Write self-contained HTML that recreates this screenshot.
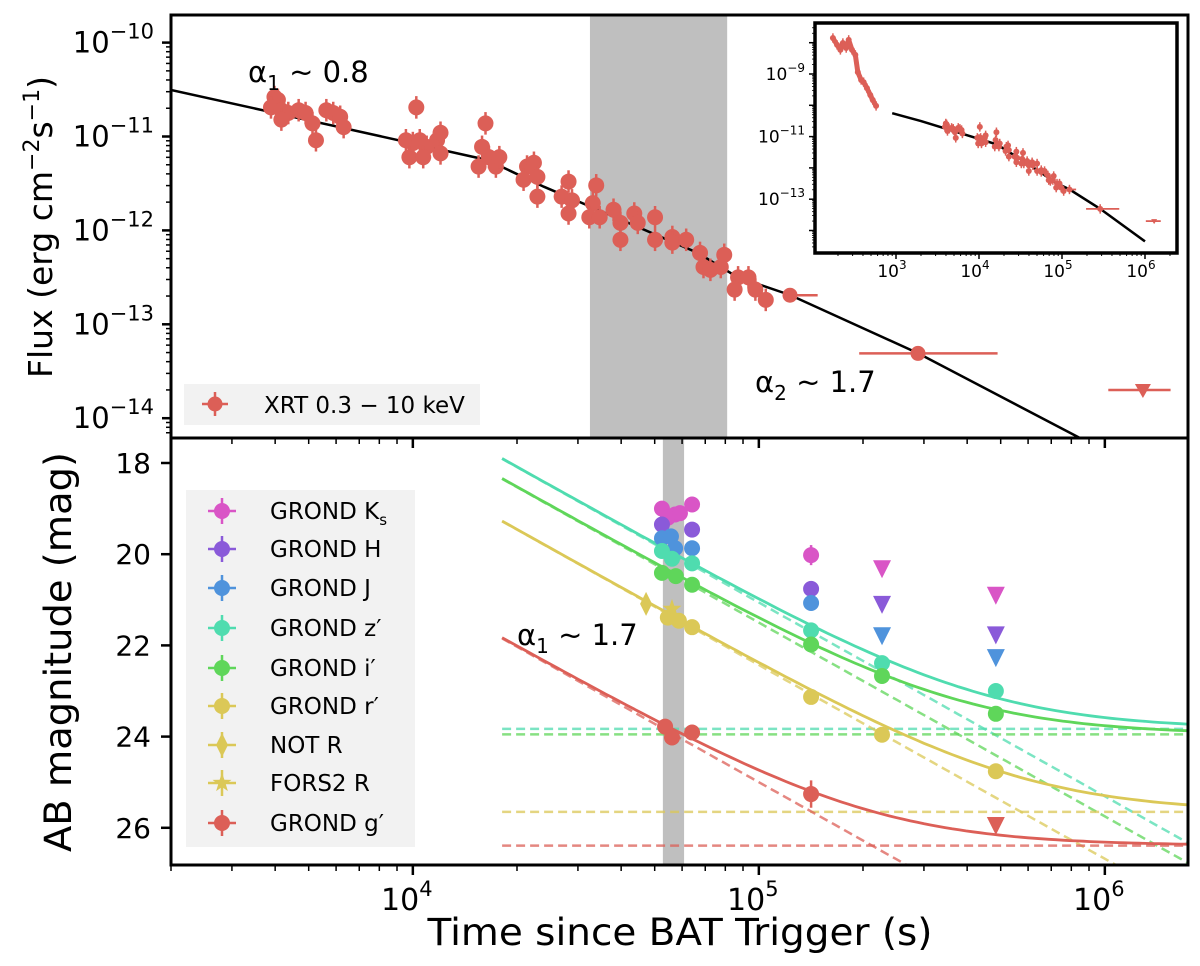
<!DOCTYPE html>
<html><head><meta charset="utf-8"><style>
html,body{margin:0;padding:0;background:#fff;overflow:hidden;width:1200px;height:966px;}
svg{display:block;font-family:"DejaVu Sans","Liberation Sans",sans-serif;}
</style></head><body>
<svg id="fig" width="1200" height="966" viewBox="0 0 1200 966" xmlns="http://www.w3.org/2000/svg">
<defs>
<clipPath id="clipTop"><rect x="171" y="15" width="1017" height="423"/></clipPath>
<clipPath id="clipBot"><rect x="171" y="438" width="1017" height="427"/></clipPath>
<clipPath id="clipIn"><rect x="815" y="23" width="362" height="230"/></clipPath>
</defs>
<g id="topPanel"></g>
<g id="botPanel"></g>
<g id="inset"></g>
<g id="axes"></g>
</svg>
<script>
// ---------- X-ray data (log10 t [s], log10 flux) ----------
const xrtLogT = [3.60,3.61,3.59,3.62,3.64,3.67,3.69,3.71,3.72,3.75,3.77,3.79,3.80,3.62,
 4.01,3.98,4.00,4.02,4.04,4.07,4.08,3.99,4.03,4.08,
 4.21,4.20,4.22,4.19,4.24,4.25,
 4.33,4.35,4.32,4.36,4.36,4.45,4.43,4.46,4.45,
 4.53,4.52,4.51,4.54,4.58,4.60,4.60,
 4.64,4.65,4.70,4.70,4.75,4.75,4.79,
 4.83,4.84,4.86,4.89,4.90,4.94,4.97,4.93,4.99,5.02];
const xrtLogF = [-10.58,-10.61,-10.69,-10.72,-10.75,-10.72,-10.75,-10.86,-11.04,-10.72,-10.75,-10.79,-10.90,-10.82,
 -10.69,-11.04,-11.07,-11.04,-11.11,-11.04,-10.96,-11.22,-11.22,-11.18,
 -10.86,-11.11,-11.22,-11.32,-11.32,-11.22,
 -11.32,-11.28,-11.46,-11.43,-11.64,-11.48,-11.64,-11.68,-11.82,
 -11.52,-11.71,-11.86,-11.86,-11.78,-11.92,-12.10,
 -11.82,-11.92,-11.86,-12.10,-12.07,-12.13,-12.10,
 -12.24,-12.39,-12.42,-12.39,-12.26,-12.50,-12.50,-12.63,-12.63,-12.74];
const xrtErr = 0.12;
const xrtLateLogT = [5.09, 5.46];
const xrtLateLogF = [-12.69, -13.31];
const xrtLateLo = [5.07, 5.29];
const xrtLateHi = [5.17, 5.69];
const xrtULLogT = [6.11];
const xrtULLogF = [-13.70];
const xrtULLo = [6.01];
const xrtULHi = [6.19];
const fitT = [2000,6320,16400,23900,36100,66700,86500,123000,288000,847000];
const fitF = [3.13e-11,1.23e-11,5.62e-12,2.92e-12,1.53e-12,5.74e-13,3.19e-13,2.05e-13,4.94e-14,6.15e-15];
// inset early phase
const earlyLogT = [2.24,2.29,2.33,2.36,2.40,2.43,2.47,2.51,2.54,2.58,2.61,2.65,2.69,2.72,2.76];
const earlyLogF = [-7.85,-8.07,-8.23,-8.01,-8.17,-7.91,-8.23,-8.39,-8.94,-9.19,-9.26,-9.45,-9.67,-9.83,-10.02];
const insetFitT = [900,2000,6320,16400,36100,86500,123000,288000,1000000];
const insetFitF = [5.6e-11,3.13e-11,1.23e-11,5.62e-12,1.53e-12,3.19e-13,2.05e-13,4.94e-14,4.5e-15];
// ---------- optical data (log10 t, AB mag) ----------
const bands = ["Ks","H","J","z","i","r","g"];
const bandColors = ["#d955c6","#8a5ad9","#4f93dc","#4fdcaf","#5fd65a","#dbc857","#dc5f57"];
const detLogT = {
 Ks:[4.720,4.737,4.758,4.772,4.807,5.151],
 H:[4.720,4.807,5.151],
 J:[4.720,4.746,4.758,4.807,5.151],
 z:[4.720,4.749,4.807,5.151,5.356,5.685],
 i:[4.720,4.760,4.807,5.151,5.356,5.685],
 r:[4.737,4.769,4.807,5.151,5.356,5.685],
 g:[4.729,4.749,4.807,5.151]};
const detMag = {
 Ks:[19.00,19.20,19.13,19.10,18.91,20.02],
 H:[19.35,19.46,20.76],
 J:[19.65,19.61,19.87,19.87,21.07],
 z:[19.93,20.10,20.20,21.67,22.39,23.00],
 i:[20.41,20.48,20.67,21.98,22.67,23.50],
 r:[21.39,21.46,21.60,23.13,23.96,24.76],
 g:[23.78,24.02,23.91,25.26]};
const ulLogT = {Ks:[5.356,5.685],H:[5.356,5.685],J:[5.356,5.685],g:[5.685]};
const ulMag = {Ks:[20.33,20.91],H:[21.11,21.78],J:[21.80,22.28],g:[25.96]};
const notLogT=[4.674], notMag=[21.09];
const forsLogT=[4.749], forsMag=[21.20];
// fit parameters: afterglow mag at t=1e5 s, host mag, decay index
const fitBands = ["z","i","r","g"];
const agMag1e5 = [21.06,21.50,22.43,25.00];
const hostMag = [23.83,23.95,25.65,26.39];
const fitAlpha = [1.7,1.7,1.7,1.7];
const fitStartLogT = 4.258;
// ---------- axis functions ----------
const LX0 = Math.log10(2000);
function X(lt){return 171 + (lt - LX0)*346;}
function YT(lf){return 42.6 + (-10 - lf)*93.9;}
function YB(m){return 463 + (m - 18)*45.6;}
function IX(lt){return 896 + (lt - 3)*83;}
function IY(lf){return 74 + (-9 - lf)*31.3;}
const NS="http://www.w3.org/2000/svg";
function mk(tag, attrs, parent){const e=document.createElementNS(NS,tag);for(const k in attrs)e.setAttribute(k,attrs[k]);parent.appendChild(e);return e;}
const top_=document.getElementById('topPanel'), bot=document.getElementById('botPanel'), ins=document.getElementById('inset'), ax=document.getElementById('axes');
const XRT="#dc5f57";

// ---- top panel ----
const gT = mk('g',{'clip-path':'url(#clipTop)'},top_);
let band=mk('rect',{x:X(Math.log10(32500)),y:15,width:X(Math.log10(81000))-X(Math.log10(32500)),height:423,fill:'#bfbfbf'},gT);


let d=fitT.map((t,i)=>(i?'L':'M')+X(Math.log10(t)).toFixed(1)+','+YT(Math.log10(fitF[i])).toFixed(1)).join('');
let fl=mk('path',{d:d,stroke:'#000','stroke-width':2.5,fill:'none'},gT);


xrtLogT.forEach((lt,i)=>{
  const g=mk('g',{},gT);
  
  
  mk('line',{x1:X(lt),x2:X(lt),y1:YT(xrtLogF[i]+xrtErr),y2:YT(xrtLogF[i]-xrtErr),stroke:XRT,'stroke-width':2.5},g);
  mk('circle',{cx:X(lt),cy:YT(xrtLogF[i]),r:8,fill:XRT},g);
});
xrtLateLogT.forEach((lt,i)=>{
  const g=mk('g',{},gT);
  
  
  mk('line',{x1:X(xrtLateLo[i]),x2:X(xrtLateHi[i]),y1:YT(xrtLateLogF[i]),y2:YT(xrtLateLogF[i]),stroke:XRT,'stroke-width':2.5},g);
  mk('circle',{cx:X(lt),cy:YT(xrtLateLogF[i]),r:7.5,fill:XRT},g);
});
xrtULLogT.forEach((lt,i)=>{
  const g=mk('g',{},gT);
  
  
  const x=X(lt),y=YT(xrtULLogF[i]);
  mk('line',{x1:X(xrtULLo[i]),x2:X(xrtULHi[i]),y1:y,y2:y,stroke:XRT,'stroke-width':2.5},g);
  mk('path',{d:`M${x-8},${y-6}L${x+8},${y-6}L${x},${y+8}Z`,fill:XRT},g);
});

// ---- bottom panel ----
const gB = mk('g',{'clip-path':'url(#clipBot)'},bot);
let band2=mk('rect',{x:X(Math.log10(52800)),y:438,width:X(Math.log10(60800))-X(Math.log10(52800)),height:427,fill:'#bfbfbf'},gB);


const LXMAX=6.25;
fitBands.forEach((b,k)=>{
  const col=bandColors[bands.indexOf(b)];
  const yh=YB(hostMag[k]);
  let h=mk('line',{x1:X(fitStartLogT),x2:X(LXMAX),y1:yh,y2:yh,stroke:col,'stroke-width':2.5,'stroke-dasharray':'9,5',opacity:0.75},gB);
  
  
  let pd='',ps='';
  for(let lt=fitStartLogT;lt<=LXMAX+0.001;lt+=0.02){
    const ag=agMag1e5[k]+2.5*fitAlpha[k]*(lt-5);
    const tot=-2.5*Math.log10(Math.pow(10,-0.4*ag)+Math.pow(10,-0.4*hostMag[k]));
    if(YB(ag)<=872) pd+=(pd?'L':'M')+X(lt).toFixed(1)+','+YB(ag).toFixed(1);
    ps+=(ps?'L':'M')+X(lt).toFixed(1)+','+YB(tot).toFixed(1);
  }
  let a=mk('path',{d:pd,stroke:col,'stroke-width':2.5,fill:'none','stroke-dasharray':'9,5',opacity:0.75},gB);
  
  
  let s=mk('path',{d:ps,stroke:col,'stroke-width':2.8,fill:'none'},gB);
  
  
});
bands.forEach((b,k)=>{
  const col=bandColors[k];
  detLogT[b].forEach((lt,i)=>{
    const c=mk('circle',{cx:X(lt),cy:YB(detMag[b][i]),r:8,fill:col},gB);
    
    
  });
  (ulLogT[b]||[]).forEach((lt,i)=>{
    const x=X(lt),y=YB(ulMag[b][i]);
    const p=mk('path',{d:`M${x-9},${y-9}L${x+9},${y-9}L${x},${y+9}Z`,fill:col},gB);
    
    
  });
});
{const lt=detLogT.g[3],m=detMag.g[3];let e=mk('line',{x1:X(lt),x2:X(lt),y1:YB(m-0.3),y2:YB(m+0.3),stroke:bandColors[6],'stroke-width':2.5},gB);
}
{const lt=detLogT.Ks[5],m=detMag.Ks[5];let e=mk('line',{x1:X(lt),x2:X(lt),y1:YB(m-0.22),y2:YB(m+0.22),stroke:bandColors[0],'stroke-width':2.5},gB);
}
notLogT.forEach((lt,i)=>{const x=X(lt),y=YB(notMag[i]);
 const p=mk('path',{d:`M${x},${y-12}L${x+6},${y}L${x},${y+12}L${x-6},${y}Z`,fill:bandColors[5]},gB);
 });
forsLogT.forEach((lt,i)=>{const x=X(lt),y=YB(forsMag[i]);
 let pts='';for(let j=0;j<10;j++){const r=j%2?4:10,a=-Math.PI/2+j*Math.PI/5;pts+=(x+r*Math.cos(a)).toFixed(1)+','+(y+r*Math.sin(a)).toFixed(1)+' ';}
 const p=mk('polygon',{points:pts,fill:bandColors[5]},gB);
 });

// ---- inset ----
let ib=mk('rect',{x:815,y:23,width:362,height:230,fill:'#fff',stroke:'#000','stroke-width':3.5},ins);

const gI=mk('g',{'clip-path':'url(#clipIn)'},ins);
let idp=insetFitT.map((t,i)=>(i?'L':'M')+IX(Math.log10(t)).toFixed(1)+','+IY(Math.log10(insetFitF[i])).toFixed(1)).join('');
let il=mk('path',{d:idp,stroke:'#000','stroke-width':2.5,fill:'none'},gI);

function ipt(lt,lf,nm){const g=mk('g',{},gI);
 mk('line',{x1:IX(lt),x2:IX(lt),y1:IY(lf+0.15),y2:IY(lf-0.15),stroke:XRT,'stroke-width':1.5},g);
 mk('circle',{cx:IX(lt),cy:IY(lf),r:3,fill:XRT},g);}
earlyLogT.forEach((lt,i)=>ipt(lt,earlyLogF[i],'inset-early-point'));
for(let i=0;i<earlyLogT.length-1;i++){let s=mk('line',{x1:IX(earlyLogT[i]),y1:IY(earlyLogF[i]),x2:IX(earlyLogT[i+1]),y2:IY(earlyLogF[i+1]),stroke:XRT,'stroke-width':5},gI);
 }
xrtLogT.forEach((lt,i)=>ipt(lt,xrtLogF[i],'inset-xrt-point'));
xrtLateLogT.forEach((lt,i)=>{ipt(lt,xrtLateLogF[i],'inset-late-point');
 let l=mk('line',{x1:IX(xrtLateLo[i]),x2:IX(xrtLateHi[i]),y1:IY(xrtLateLogF[i]),y2:IY(xrtLateLogF[i]),stroke:XRT,'stroke-width':1.8},gI);
 });
xrtULLogT.forEach((lt,i)=>{const x=IX(lt),y=IY(xrtULLogF[i]);
 let l=mk('line',{x1:IX(xrtULLo[i]),x2:IX(xrtULHi[i]),y1:y,y2:y,stroke:XRT,'stroke-width':1.8},gI);
 
 mk('path',{d:`M${x-3},${y-2}L${x+3},${y-2}L${x},${y+3}Z`,fill:XRT},gI);});
for(let dcd=2;dcd<=6;dcd++){for(let m=1;m<10;m++){const lt=dcd+Math.log10(m);const x=IX(lt);if(x<816||x>1176)continue;
 mk('line',{x1:x,x2:x,y1:253,y2:m==1?259:256,stroke:'#000','stroke-width':m==1?1.5:1},ins);}}
[3,4,5,6].forEach(p=>{const t=mk('text',{x:IX(p)-4,y:277,'font-size':17,'text-anchor':'middle'},ins);
 
 t.innerHTML='10<tspan dy="-8" font-size="12">'+p+'</tspan>';});
for(let dcd=-15;dcd<=-7;dcd++){for(let m=1;m<10;m++){const lf=dcd+Math.log10(m);const y=IY(lf);if(y<24||y>252)continue;
 mk('line',{x1:815,x2:m==1?809:812,y1:y,y2:y,stroke:'#000','stroke-width':m==1?1.5:0.8},ins);}}
[-9,-11,-13].forEach(p=>{const t=mk('text',{x:805,y:IY(p)+6,'font-size':17,'text-anchor':'end'},ins);
 
 t.innerHTML='10<tspan dy="-8" font-size="12">\u2212'+(-p)+'</tspan>';});

// ---- axes frames & ticks ----
let f1=mk('rect',{x:171,y:15,width:1017,height:423,fill:'none',stroke:'#000','stroke-width':3},ax);

let f2=mk('rect',{x:171,y:438,width:1017,height:427,fill:'none',stroke:'#000','stroke-width':3},ax);

for(let dcd=-15;dcd<=-10;dcd++){for(let m=1;m<10;m++){const lf=dcd+Math.log10(m);const y=YT(lf);if(y<16||y>437)continue;
 mk('line',{x1:171,x2:m==1?162:166,y1:y,y2:y,stroke:'#000','stroke-width':m==1?2.5:1.5},ax);}}
[-10,-11,-12,-13,-14].forEach(p=>{const t=mk('text',{x:154,y:YT(p)+10,'font-size':29,'text-anchor':'end'},ax);
 
 t.innerHTML='10<tspan dy="-14" font-size="21">\u2212'+(-p)+'</tspan>';});
[18,20,22,24,26].forEach(m=>{const y=YB(m);mk('line',{x1:171,x2:161,y1:y,y2:y,stroke:'#000','stroke-width':2.5},ax);
 const t=mk('text',{x:151,y:y+10,'font-size':28,'text-anchor':'end'},ax);
 t.textContent=m;});
for(let dcd=3;dcd<=6;dcd++){for(let m=1;m<10;m++){const lt=dcd+Math.log10(m);const x=X(lt);if(x<170||x>1189)continue;
 const L=m==1?10:6,w=m==1?2.5:1.5;
 mk('line',{x1:x,x2:x,y1:865,y2:865+L,stroke:'#000','stroke-width':w},ax);
 mk('line',{x1:x,x2:x,y1:438,y2:438+L,stroke:'#000','stroke-width':w},ax);}}
[4,5,6].forEach(p=>{const t=mk('text',{x:X(p)-6,y:910,'font-size':30,'text-anchor':'middle'},ax);
 
 t.innerHTML='10<tspan dy="-14" font-size="21">'+p+'</tspan>';});
function txt(x,y,s,size,nm,extra){const t=mk('text',Object.assign({x:x,y:y,'font-size':size},extra||{}),ax);
 t.innerHTML=s;return t;}
txt(680,945,'Time since BAT Trigger (s)',37,'x-axis-title',{'text-anchor':'middle',textLength:505,lengthAdjust:'spacingAndGlyphs'});
txt(0,0,'Flux (erg cm<tspan dy="-13" font-size="22">\u22122</tspan><tspan dy="13">s</tspan><tspan dy="-13" font-size="22">\u22121</tspan><tspan dy="13">)</tspan>',33,'y-axis-title-flux',{transform:'translate(52,227) rotate(-90)','text-anchor':'middle'});
txt(0,0,'AB magnitude (mag)',37,'y-axis-title-mag',{transform:'translate(71,652) rotate(-90)','text-anchor':'middle',textLength:400,lengthAdjust:'spacingAndGlyphs'});
txt(248,82,'\u03b1<tspan dy="8" font-size="20">1</tspan><tspan dy="-8"> ~ 0.8</tspan>',29,'alpha1-xray-label');
txt(755,392,'\u03b1<tspan dy="8" font-size="20">2</tspan><tspan dy="-8"> ~ 1.7</tspan>',29,'alpha2-xray-label');
txt(517,645,'\u03b1<tspan dy="8" font-size="20">1</tspan><tspan dy="-8"> ~ 1.7</tspan>',29,'alpha1-optical-label');
let lg=mk('g',{},ax);
mk('rect',{x:184,y:384,width:296,height:41,fill:'#f2f2f2'},lg);
mk('line',{x1:202,x2:228,y1:404,y2:404,stroke:XRT,'stroke-width':2.5},lg);
mk('line',{x1:215,x2:215,y1:392,y2:416,stroke:XRT,'stroke-width':2.5},lg);
mk('circle',{cx:215,cy:404,r:7.5,fill:XRT},lg);
let lt1=mk('text',{x:264,y:413,'font-size':23},lg);lt1.textContent='XRT 0.3 \u2212 10 keV';

let lg2=mk('g',{},ax);
mk('rect',{x:186,y:490,width:229,height:357,fill:'#f2f2f2'},lg2);
const legLabels=['GROND K<tspan dy="6" font-size="15">s</tspan>','GROND H','GROND J','GROND z\u2032','GROND i\u2032','GROND r\u2032','NOT R','FORS2 R','GROND g\u2032'];
const legCols=[bandColors[0],bandColors[1],bandColors[2],bandColors[3],bandColors[4],bandColors[5],bandColors[5],bandColors[5],bandColors[6]];
const legY=[511,549,588,628,668,706,745,783,823];
legLabels.forEach((s,i)=>{const y=legY[i],c=legCols[i];
 const g=mk('g',{},lg2);
 mk('line',{x1:208,x2:236,y1:y,y2:y,stroke:c,'stroke-width':2.5},g);
 mk('line',{x1:222,x2:222,y1:y-13,y2:y+13,stroke:c,'stroke-width':2.5},g);
 if(i==6) mk('path',{d:`M222,${y-12}L228,${y}L222,${y+12}L216,${y}Z`,fill:c},g);
 else if(i==7){let pts='';for(let j=0;j<10;j++){const r=j%2?4:10,a=-Math.PI/2+j*Math.PI/5;pts+=(222+r*Math.cos(a)).toFixed(1)+','+(y+r*Math.sin(a)).toFixed(1)+' ';}mk('polygon',{points:pts,fill:c},g);}
 else mk('circle',{cx:222,cy:y,r:8,fill:c},g);
 const t=mk('text',{x:270,y:y+8,'font-size':23},g);t.innerHTML=s;});
</script>
</body></html>
